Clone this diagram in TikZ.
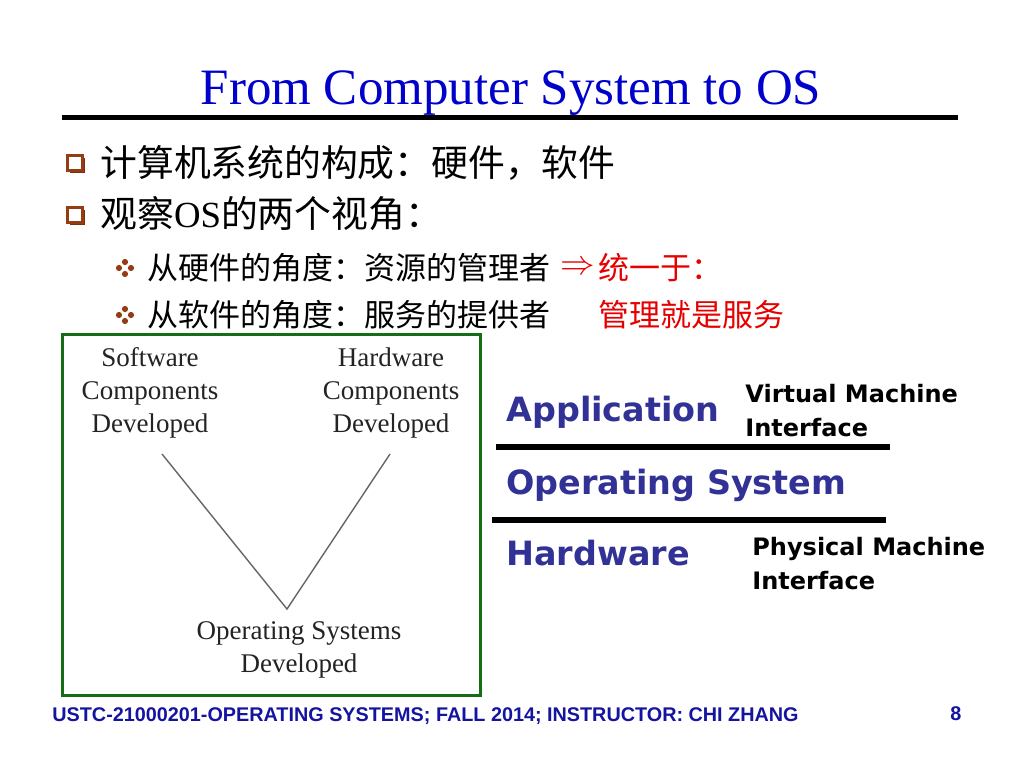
\documentclass[tikz,border=0pt]{standalone}
\usepackage{fontspec}
\setmainfont{Liberation Serif}
\newfontfamily\cjk{Noto Sans CJK SC}
\newfontfamily\comic{DejaVu Sans}
\newfontfamily\footfont{Liberation Sans}
\usetikzlibrary{shadows}
\definecolor{titleblue}{RGB}{0,0,204}
\definecolor{footblue}{RGB}{20,20,160}
\definecolor{layerblue}{RGB}{50,50,150}
\definecolor{bulletbrown}{RGB}{150,60,20}
\definecolor{boxgreen}{RGB}{20,110,20}
\definecolor{textred}{RGB}{230,0,0}
\definecolor{vgrey}{RGB}{35,35,35}

\begin{document}
\begin{tikzpicture}[x=0.5pt,y=-0.5pt]
    \useasboundingbox[fill=white] (0,0) rectangle (1024,768);
    % title
    \node[anchor=base, text=titleblue, font=\fontsize{25.5}{28}\selectfont] (title) at (511,104) {From Computer System to OS};
    \draw[line width=2.5pt] (62,117) -- (958,117);
    % bullets
    \begin{scope}
        \tikzstyle{every node}=[draw=bulletbrown, fill=white, line width=1.2pt, minimum size=7.5pt, inner sep=0pt,
            drop shadow={shadow xshift=1pt, shadow yshift=-1pt, fill=bulletbrown!80!black, opacity=1}]
        \node (b1) at (75,163) {};
        \node (b2) at (75,215) {};
    \end{scope}
    \foreach \yy in {268,315} {
        \foreach \dx/\dy in {0/-6, -6/0, 6/0, 0/6}
            \fill[bulletbrown] (125+\dx,\yy+\dy) circle (3.1);
    }
    \begin{scope}
        \tikzstyle{every node}=[anchor=west, inner sep=0pt, font=\cjk\fontsize{18.4}{20}\selectfont]
        \node (l1) at (100,163) {计算机系统的构成：硬件，软件};
        \node (l2) at (100,214) {观察{\rmfamily OS}的两个视角：};
    \end{scope}
    \begin{scope}
        \tikzstyle{every node}=[anchor=west, inner sep=0pt, font=\cjk\fontsize{15.5}{17}\selectfont]
        \node (s1) at (147,268) {从硬件的角度：资源的管理者};
        \node (s2) at (147,315) {从软件的角度：服务的提供者};
        \node[text=textred, font=\fontsize{16}{17}\selectfont] (arr) at (560,268) {$\Rightarrow$};
        \node[text=textred] (r1) at (598,268) {统一于：};
        \node[text=textred] (r2) at (598,315) {管理就是服务};
    \end{scope}
    % left box
    \draw[boxgreen, line width=1.5pt] (62,334) rectangle (480,695);
    \begin{scope}
        \tikzstyle{every node}=[align=center, inner sep=0pt, text=vgrey, font=\fontsize{13.5}{16.5}\selectfont]
        \node (sw) at (150,393) {Software\\Components\\Developed};
        \node (hw) at (391,393) {Hardware\\Components\\Developed};
        \node (os) at (299,650) {Operating Systems\\Developed};
    \end{scope}
    \coordinate (swend) at (162,454);
    \coordinate (hwend) at (390,454);
    \coordinate (osend) at (287,609);
    \draw[black!60, line width=0.7pt] (swend) -- (osend) -- (hwend);
    % layers
    \begin{scope}
        \tikzstyle{every node}=[anchor=west, inner sep=0pt, text=layerblue, font=\comic\bfseries\fontsize{16.7}{20}\selectfont]
        \node (app) at (506,412) {Application};
        \node (opsys) at (506,485) {Operating System};
        \node (hwl) at (506,553) {Hardware};
    \end{scope}
    \draw[line width=3pt] (496,447) -- (890,447);
    \draw[line width=3pt] (492,520) -- (886,520);
    \begin{scope}
        \tikzstyle{every node}=[anchor=west, align=left, inner sep=0pt, font=\comic\bfseries\fontsize{12}{17}\selectfont]
        \node (vmi) at (745,411) {Virtual Machine\\Interface};
        \node (pmi) at (752,564) {Physical Machine\\Interface};
    \end{scope}
    % footer
    \node[anchor=base west, inner sep=0pt, text=footblue, font=\footfont\bfseries\fontsize{9.9}{11}\selectfont] (foot) at (52,721)
        {USTC-21000201-OPERATING SYSTEMS; FALL 2014; INSTRUCTOR: CHI ZHANG};
    \node[anchor=base west, inner sep=0pt, text=footblue, font=\footfont\bfseries\fontsize{9.9}{11}\selectfont] (page) at (950,720) {8};
\end{tikzpicture}
\end{document}
